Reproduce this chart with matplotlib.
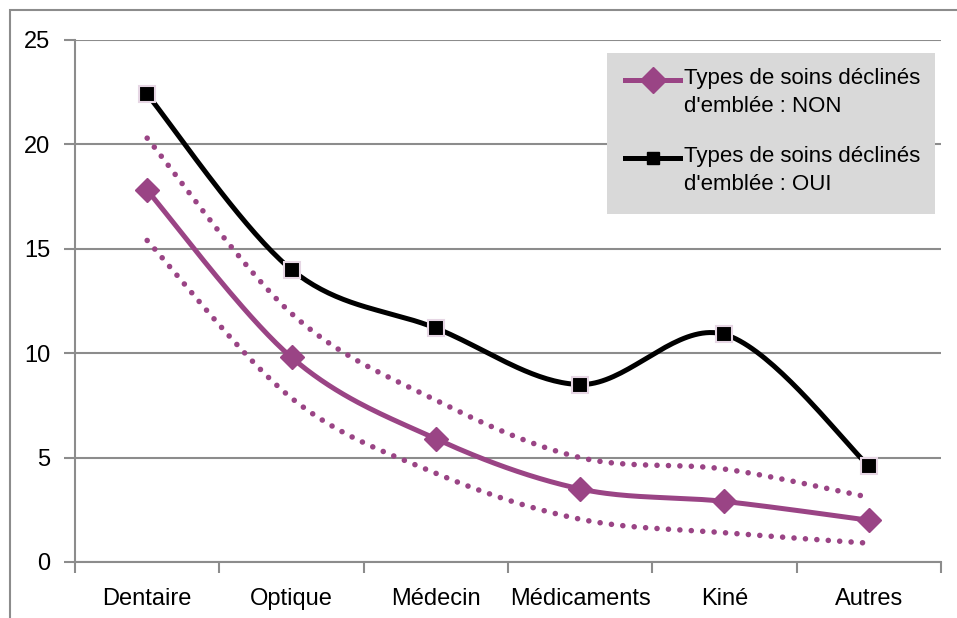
import numpy as np
import matplotlib.pyplot as plt
from matplotlib.patches import Rectangle
from matplotlib.lines import Line2D

plt.rcParams['font.family'] = ['Liberation Sans Narrow', 'Liberation Sans', 'DejaVu Sans']

categories = ['Dentaire', 'Optique', 'Médecin', 'Médicaments', 'Kiné', 'Autres']
oui = [22.4, 14.0, 11.2, 8.5, 10.9, 4.6]
non = [17.8, 9.8, 5.9, 3.5, 2.9, 2.0]
non_haut = [20.3, 11.9, 7.75, 5.0, 4.45, 3.1]
non_bas = [15.4, 7.85, 4.25, 2.05, 1.4, 0.9]
label_non = "Types de soins déclinés\nd'emblée : NON"
label_oui = "Types de soins déclinés\nd'emblée : OUI"

violet = '#9a4485'
gris = '#8c8c8c'


def lissage(y, n=40):
    # courbe lissée façon Excel (bezier cubique type catmull-rom)
    x = np.arange(len(y), dtype=float)
    p = np.column_stack([x, np.array(y, dtype=float)])
    xs, ys = [], []
    for i in range(len(p) - 1):
        p0 = p[max(i - 1, 0)]
        p1 = p[i]
        p2 = p[i + 1]
        p3 = p[min(i + 2, len(p) - 1)]
        c1 = p1 + (p2 - p0) / 6
        c2 = p2 - (p3 - p1) / 6
        t = np.linspace(0, 1, n)[:, None]
        b = (1 - t) ** 3 * p1 + 3 * (1 - t) ** 2 * t * c1 + 3 * (1 - t) * t ** 2 * c2 + t ** 3 * p2
        xs.extend(b[:, 0])
        ys.extend(b[:, 1])
    return xs, ys


fig = plt.figure(figsize=(9.57, 6.18), dpi=100)
ax = fig.add_axes([75 / 957, 1 - 562 / 618, (941 - 75) / 957, (562 - 40) / 618])

# cadre du graphique (coupé à droite et en bas)
fig.patches.append(Rectangle((10 / 957, -0.05), 1.1, 1 - 10 / 618 + 0.05, transform=fig.transFigure,
                             fill=False, edgecolor=gris, linewidth=1.5))

pos = np.arange(len(categories))

for serie in [non_haut, non_bas]:
    xs, ys = lissage(serie)
    ax.plot(xs, ys, color=violet, linewidth=4.0, linestyle=(0, (0.01, 2.05)),
            dash_capstyle='round', zorder=3)

xs, ys = lissage(non)
ax.plot(xs, ys, color=violet, linewidth=3.6, solid_capstyle='butt', zorder=4)
ax.plot(pos, non, linestyle='none', marker='D', markersize=12, color=violet, zorder=5)

xs, ys = lissage(oui)
ax.plot(xs, ys, color='black', linewidth=3.6, zorder=4)
ax.plot(pos, oui, linestyle='none', marker='s', markersize=12, markerfacecolor='black',
        markeredgecolor='#e6d6e4', markeredgewidth=1.5, zorder=5)

ax.set_xlim(-0.5, len(categories) - 0.5)
ax.set_ylim(0, 25)
ax.set_yticks([0, 5, 10, 15, 20, 25])
ax.set_xticks(pos)
ax.set_xticklabels(categories)
ax.set_xticks(np.arange(-0.5, len(categories), 1), minor=True)
ax.tick_params(axis='x', which='major', length=0, pad=19, labelsize=17)
ax.tick_params(axis='x', which='minor', length=8, width=1.5, color=gris, direction='out')
ax.tick_params(axis='y', length=8, width=1.5, color=gris, pad=10, labelsize=17)
ax.grid(axis='y', color=gris, linewidth=1.5)
ax.set_axisbelow(True)
for s in ['top', 'right']:
    ax.spines[s].set_visible(False)
for s in ['left', 'bottom']:
    ax.spines[s].set_color(gris)
    ax.spines[s].set_linewidth(1.5)

# légende dessinée à la main (symbole aligné sur la première ligne)
def px(x, y):
    return x / 957, 1 - y / 618

leg = Rectangle(px(607, 214), (935 - 607) / 957, (214 - 53) / 618, transform=fig.transFigure,
                facecolor='#d9d9d9', edgecolor='none', zorder=10)
fig.patches.append(leg)
for y0, lab, coul, mk, ms in [(80, label_non, violet, 'D', 13), (158, label_oui, 'black', 's', 9)]:
    xa, ya = px(625, y0)
    xb, _ = px(680, y0)
    fig.lines.append(Line2D([xa, xb], [ya, ya], transform=fig.transFigure, color=coul, linewidth=3.6, zorder=11))
    fig.lines.append(Line2D([(xa + xb) / 2], [ya], transform=fig.transFigure, marker=mk, markersize=ms,
                            color=coul, zorder=12))
    xt, yt = px(684, y0 - 12)
    fig.text(xt, yt, lab, fontsize=16, va='top', ha='left', linespacing=1.45, zorder=12)

fig.savefig('out.png', dpi=100)
